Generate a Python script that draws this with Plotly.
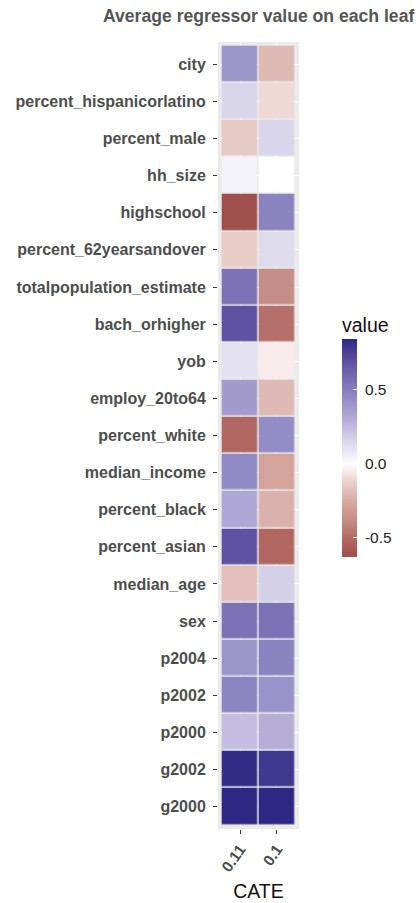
import plotly.graph_objects as go

# ---- data ----
regressors = ["city", "percent_hispanicorlatino", "percent_male", "hh_size", "highschool",
              "percent_62yearsandover", "totalpopulation_estimate", "bach_orhigher", "yob",
              "employ_20to64", "percent_white", "median_income", "percent_black", "percent_asian",
              "median_age", "sex", "p2004", "p2002", "p2000", "g2002", "g2000"]
cate_labels = ["0.11", "0.1"]
leaf_011 = [0.40, 0.15, -0.15, 0.04, -0.62, -0.14, 0.55, 0.68, 0.10, 0.37, -0.52, 0.45,
            0.32, 0.68, -0.18, 0.55, 0.40, 0.47, 0.23, 0.82, 0.84]
leaf_01 = [-0.20, -0.10, 0.15, 0.0, 0.48, 0.12, -0.38, -0.48, -0.05, -0.20, 0.44, -0.28,
           -0.23, -0.52, 0.17, 0.55, 0.48, 0.41, 0.29, 0.78, 0.84]
colorbar_ticks = [-0.5, 0.0, 0.5]
colorbar_ticktext = ["-0.5", "0.0", "0.5"]

# ---- colour scale (value -> colour) ----
zmin, zmax = -0.628, 0.838
scale_pts = [(-0.628, "#9F4E4A"), (-0.5, "#B36A65"), (-0.38, "#C48D86"), (-0.28, "#D3A39C"),
             (-0.2, "#DFB9B4"), (-0.1, "#EFD9D6"), (0.0, "#FFFFFF"), (0.1, "#E4E1F1"),
             (0.17, "#D4D0E8"), (0.3, "#B3AAD6"), (0.45, "#918AC4"), (0.55, "#7E72B6"),
             (0.68, "#6052A3"), (0.838, "#2E2884")]
colorscale = [[(v - zmin) / (zmax - zmin), c] for v, c in scale_pts]
colorscale[0][0] = 0.0
colorscale[-1][0] = 1.0

z = [[a, b] for a, b in zip(leaf_011, leaf_01)]

FONT = "Liberation Sans, Arial, sans-serif"

fig = go.Figure(go.Heatmap(
    z=z, x=cate_labels, y=regressors,
    colorscale=colorscale, zmin=zmin, zmax=zmax,
    xgap=1.5, ygap=1.5,
    hoverongaps=False,
    colorbar=dict(
        xref="container", yref="container",
        x=342 / 420, xanchor="left",
        y=1 - 389 / 903, yanchor="top",
        len=218, lenmode="pixels", thickness=15,
        outlinewidth=0, xpad=0, ypad=0,
        tickvals=colorbar_ticks, ticktext=["\u00a0" + t for t in colorbar_ticktext],
        ticks="inside", ticklen=4, tickcolor="white", tickwidth=1,
        tickfont=dict(family=FONT, size=15.5, color="#222222"),
    ),
))

fig.add_annotation(
    text="value", xref="paper", yref="paper",
    x=(340 - 218) / 81, xanchor="left",
    y=1 - (325 - 42) / 787, yanchor="middle",
    showarrow=False, font=dict(family=FONT, size=19.5, color="#111111"),
)

fig.update_layout(
    width=420, height=903,
    margin=dict(l=218, r=121, t=42, b=74, autoexpand=False),
    paper_bgcolor="white", plot_bgcolor="#EBEBEB",
    font=dict(family=FONT),
    title=dict(text="<b>Average regressor value on each leaf</b>",
               xref="container", x=103 / 420, xanchor="left",
               yref="container", y=1 - 16 / 903, yanchor="middle",
               pad=dict(l=0, r=0, t=0, b=0),
               font=dict(family=FONT, size=17.6, color="#555555")),
    showlegend=False,
)

fig.update_xaxes(
    type="category", range=[-0.6, 1.6], automargin=False,
    showgrid=True, gridcolor="white", gridwidth=1, zeroline=False,
    ticks="outside", ticklen=4, tickcolor="#333333", tickwidth=1.2,
    tickangle=-55,
    tickfont=dict(family=FONT, size=15.5, color="#4D4D4D", weight="bold"),
    title=dict(text="CATE", standoff=10, font=dict(family=FONT, size=19.5, color="#111111")),
    showline=False, fixedrange=True,
)
fig.update_yaxes(
    type="category", categoryorder="array", categoryarray=regressors,
    range=[20.6, -0.6], automargin=False,
    showgrid=True, gridcolor="white", gridwidth=1, zeroline=False,
    ticks="outside", ticklen=4, tickcolor="#333333", tickwidth=1.2,
    ticklabelstandoff=4,
    tickfont=dict(family=FONT, size=16, color="#4D4D4D", weight="bold"),
    showline=False, fixedrange=True,
)

fig.write_html("out.html", config={"displayModeBar": False},
               post_script="document.body.style.margin='0px';")
